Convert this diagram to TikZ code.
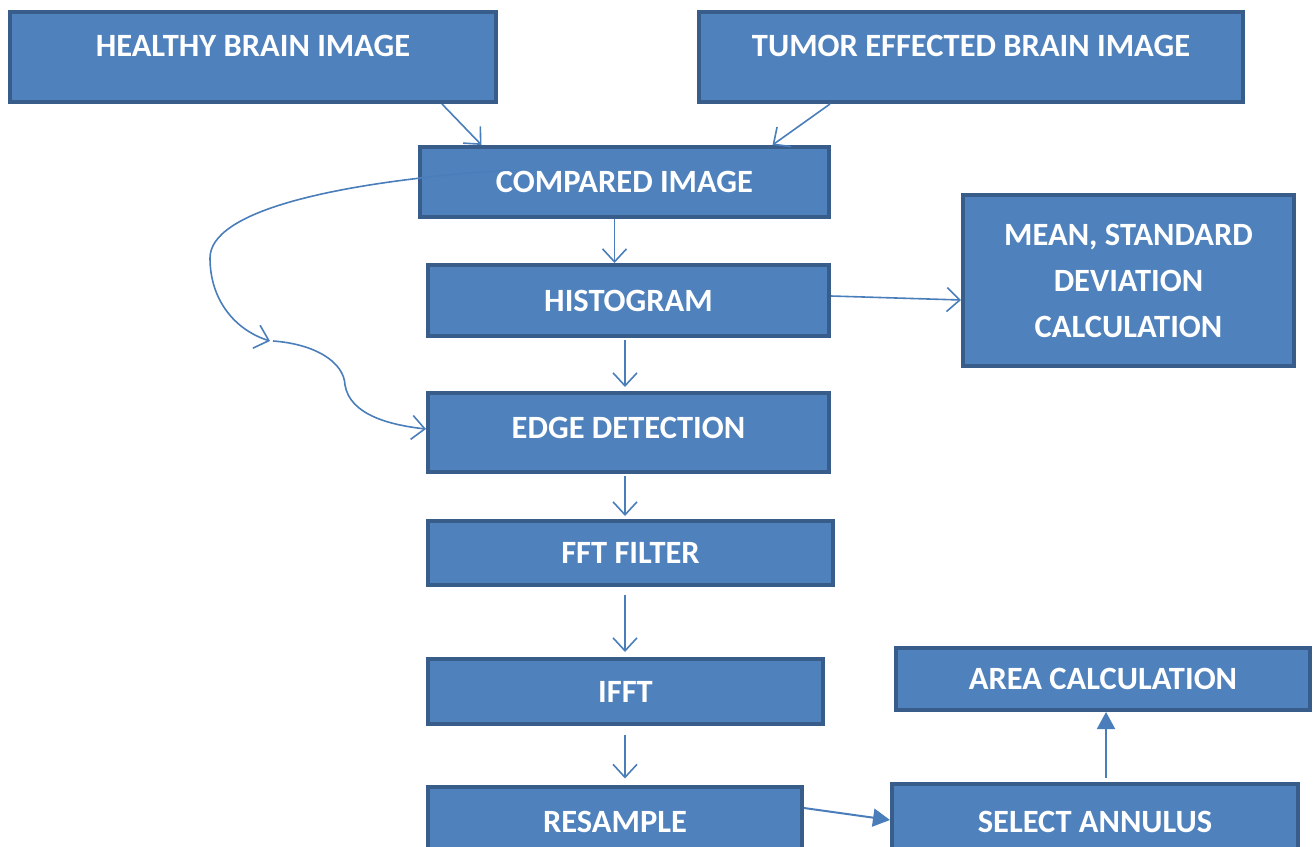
\documentclass[tikz,border=0pt]{standalone}
\usepackage{fontspec}
\setmainfont{Carlito}
\usetikzlibrary{arrows.meta,shapes}
\definecolor{blockfill}{HTML}{4F81BD}
\definecolor{blockline}{HTML}{385D8A}
\definecolor{flowline}{HTML}{4A7EBB}
\tikzstyle{block}=[draw=blockline,fill=blockfill,line width=4pt,text=white,inner sep=0pt,align=center,font=\bfseries\fontsize{32.5}{46}\selectfont]
\tikzstyle{toptext}=[text height=21pt,text depth=22pt]
\tikzstyle{flow}=[draw=flowline,line width=1.6pt,-{Straight Barb[length=13pt,width=24pt]}]
\tikzstyle{solidflow}=[draw=flowline,line width=2pt,-{Triangle[length=17pt,width=18pt]}]

\begin{document}
\begin{tikzpicture}[x=1pt,y=-1pt]
    \useasboundingbox (0,0) rectangle (1314,846);
    \clip (0,0) rectangle (1314,846);
    % boxes
    \node[block,toptext,minimum width=486pt,minimum height=90pt] (healthy) at (253,57) {HEALTHY BRAIN IMAGE};
    \node[block,toptext,minimum width=544pt,minimum height=90pt] (tumor) at (971,57) {TUMOR EFFECTED BRAIN IMAGE};
    \node[block,minimum width=409pt,minimum height=70pt] (compared) at (624.5,182) {COMPARED IMAGE};
    \node[block,minimum width=401pt,minimum height=71pt] (histogram) at (628.5,300.5) {HISTOGRAM};
    \node[block,minimum width=331pt,minimum height=171pt] (stats) at (1128.5,280.5) {MEAN, STANDARD\\DEVIATION\\CALCULATION};
    \node[block,text height=21pt,text depth=10pt,minimum width=401pt,minimum height=79pt] (edge) at (628.5,432.5) {EDGE DETECTION};
    \node[block,minimum width=405pt,minimum height=64pt] (fft) at (630.5,553) {FFT FILTER};
    \node[block,minimum width=395pt,minimum height=65pt] (ifft) at (625.5,691.5) {IFFT};
    \node[block,minimum width=374pt,minimum height=71pt] (resample) at (615,822) {RESAMPLE};
    \node[block,minimum width=406pt,minimum height=76pt] (annulus) at (1095,822) {SELECT ANNULUS};
    \node[block,minimum width=414pt,minimum height=62pt] (area) at (1103,679) {AREA CALCULATION};
    % arrows
    \path[flow] ([xshift=-56pt]healthy.south east) -- ([xshift=-143pt]compared.north);
    \path[flow] ([xshift=-415pt]tumor.south east) -- ([xshift=148pt]compared.north);
    \path[flow] ([xshift=-10pt]compared.south) -- ([xshift=-14pt]histogram.north);
    \foreach \source/\dest/\pre/\post in {histogram/edge/2/4, edge/fft/2/3, fft/ifft/8/5, ifft/resample/9/6}
        \path[flow,shorten <=\pre pt,shorten >=\post pt] (\source.south -| 625,0) -- (\dest.north -| 625,0);
    \path[flow] ([yshift=4.5pt]histogram.east) -- ([yshift=-19.5pt]stats.west);
    \path[solidflow] ([yshift=14pt]resample.east) -- ([yshift=2pt]annulus.west);
    \path[solidflow,shorten <=4pt] ([xshift=11pt]annulus.north) -- ([xshift=3pt]area.south);
    % loop back to edge detection
    \coordinate (bend) at (270,341);
    \path[flow] ([xshift=-114.5pt,yshift=12pt]compared.center)
        .. controls (330,182) and (210,212) .. (210,258)
        .. controls (210,300) and (235,330) .. (bend);
    \path[flow] ([xshift=3pt]bend)
        .. controls (315,344) and (344,362) .. (345,385)
        .. controls (350,415) and (390,425) .. ([yshift=3.5pt]edge.west);
\end{tikzpicture}
\end{document}
